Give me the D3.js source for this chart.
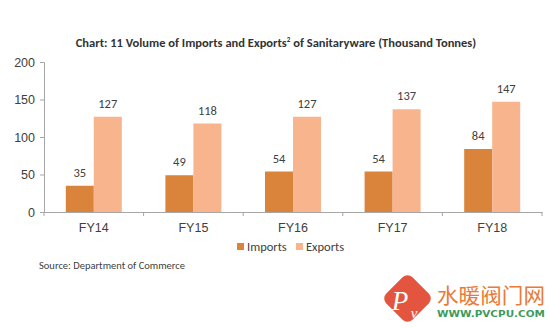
<!DOCTYPE html>
<html>
<head>
<meta charset="utf-8">
<script src="https://cdn.jsdelivr.net/npm/d3@7/dist/d3.min.js"></script>
<style>
  html, body { margin: 0; padding: 0; background: #fff; }
  svg { display: block; font-family: Calibri, Carlito, "Open Sans", "Liberation Sans", sans-serif; }
</style>
</head>
<body>
<svg id="chart" width="550" height="328"></svg>
<script>
const categories = ["FY14", "FY15", "FY16", "FY17", "FY18"];
const imports = [35, 49, 54, 54, 84];
const exports = [127, 118, 127, 137, 147];
const seriesNames = ["Imports", "Exports"];
const yTicks = [0, 50, 100, 150, 200];

const colors = { Imports: "#D9833B", Exports: "#F8B58D" };

const svg = d3.select("#chart");
const plot = { left: 44, right: 542, top: 62, bottom: 212 };

const x = d3.scaleBand().domain(categories).range([plot.left, plot.right]).paddingInner(0).paddingOuter(0);
const xInner = d3.scaleBand().domain(seriesNames).range([0, 56]);
const y = d3.scaleLinear().domain([0, 200]).range([plot.bottom, plot.top]);

// Title
const title = svg.append("text")
  .attr("x", 276).attr("y", 47)
  .attr("text-anchor", "middle")
  .attr("font-size", 12.5).attr("font-weight", "bold").attr("fill", "#333");
title.append("tspan").text("Chart: 11 Volume of Imports and Exports");
title.append("tspan").attr("font-size", 7).attr("dy", -5).text("2");
title.append("tspan").attr("dy", 5).text(" of Sanitaryware (Thousand Tonnes)");

// Y axis
const yAxis = svg.append("g")
  .attr("transform", `translate(${plot.left},0)`)
  .call(d3.axisLeft(y).tickValues(yTicks).tickSize(4).tickPadding(5));
yAxis.select(".domain").attr("stroke", "#A6A6A6");
yAxis.selectAll(".tick line").attr("stroke", "#A6A6A6");
yAxis.selectAll(".tick text").attr("font-size", 12.5).attr("fill", "#404040")
  .attr("font-family", "inherit");

// X axis
const xAxis = svg.append("g")
  .attr("transform", `translate(0,${plot.bottom})`)
  .call(d3.axisBottom(x).tickSize(0).tickPadding(11));
xAxis.select(".domain").attr("stroke", "#A6A6A6");
xAxis.selectAll(".tick text").attr("font-size", 12.5).attr("fill", "#404040")
  .attr("font-family", "inherit");
// Category boundary ticks
const bounds = categories.map(c => x(c)).concat([plot.right]);
svg.append("g").selectAll("line").data(bounds).join("line")
  .attr("x1", d => d).attr("x2", d => d)
  .attr("y1", plot.bottom).attr("y2", plot.bottom + 4)
  .attr("stroke", "#A6A6A6");

// Bars
const rows = categories.map((c, i) => ({ cat: c, values: [
  { name: "Imports", value: imports[i] },
  { name: "Exports", value: exports[i] }
]}));

const groups = svg.append("g").selectAll("g").data(rows).join("g")
  .attr("transform", d => `translate(${x(d.cat) + (x.bandwidth() - 56) / 2},0)`);

groups.selectAll("rect").data(d => d.values).join("rect")
  .attr("x", d => xInner(d.name))
  .attr("width", xInner.bandwidth())
  .attr("y", d => y(d.value))
  .attr("height", d => y(0) - y(d.value))
  .attr("fill", d => colors[d.name]);

groups.selectAll("text").data(d => d.values).join("text")
  .attr("x", d => xInner(d.name) + xInner.bandwidth() / 2)
  .attr("y", d => y(d.value) - 9)
  .attr("text-anchor", "middle")
  .attr("font-size", 12.5).attr("fill", "#404040")
  .text(d => d.value);

// Legend
const legendItems = [
  { name: "Imports", sx: 237, tx: 247 },
  { name: "Exports", sx: 296, tx: 306 }
];
const legend = svg.append("g");
legend.selectAll("rect").data(legendItems).join("rect")
  .attr("x", d => d.sx).attr("y", 243).attr("width", 7).attr("height", 7)
  .attr("fill", d => colors[d.name]);
legend.selectAll("text").data(legendItems).join("text")
  .attr("x", d => d.tx).attr("y", 251)
  .attr("font-size", 12.5).attr("fill", "#404040")
  .text(d => d.name);

// Source note
svg.append("text")
  .attr("x", 39).attr("y", 269)
  .attr("font-size", 10.5).attr("fill", "#404040")
  .text("Source: Department of Commerce");

// Site mark
const mark = svg.append("g");
mark.append("rect")
  .attr("x", 389).attr("y", 280).attr("width", 37).attr("height", 37)
  .attr("rx", 7)
  .attr("transform", "rotate(45 407.5 298.5)")
  .attr("fill", "#E4553F");
mark.append("text")
  .attr("x", 400).attr("y", 310)
  .attr("text-anchor", "middle")
  .attr("font-family", "'Liberation Serif', serif").attr("font-style", "italic")
  .attr("font-size", 27).attr("fill", "#fff").text("P");
mark.append("text")
  .attr("x", 414).attr("y", 318)
  .attr("text-anchor", "middle")
  .attr("font-family", "'Liberation Serif', serif").attr("font-style", "italic")
  .attr("font-size", 15).attr("fill", "#fff").text("v");
mark.append("text")
  .attr("x", 437).attr("y", 303)
  .attr("font-family", "'Noto Sans CJK SC', sans-serif")
  .attr("font-size", 21).attr("fill", "#E97A38")
  .attr("textLength", 108).attr("lengthAdjust", "spacingAndGlyphs")
  .text("水暖阀门网");
mark.append("text")
  .attr("x", 437).attr("y", 317)
  .attr("font-family", "'DejaVu Sans', sans-serif").attr("font-weight", "bold")
  .attr("font-size", 9.5).attr("fill", "#3E9A5B")
  .attr("textLength", 108).attr("lengthAdjust", "spacingAndGlyphs")
  .text("WWW.PVCPU.COM");
</script>
</body>
</html>
